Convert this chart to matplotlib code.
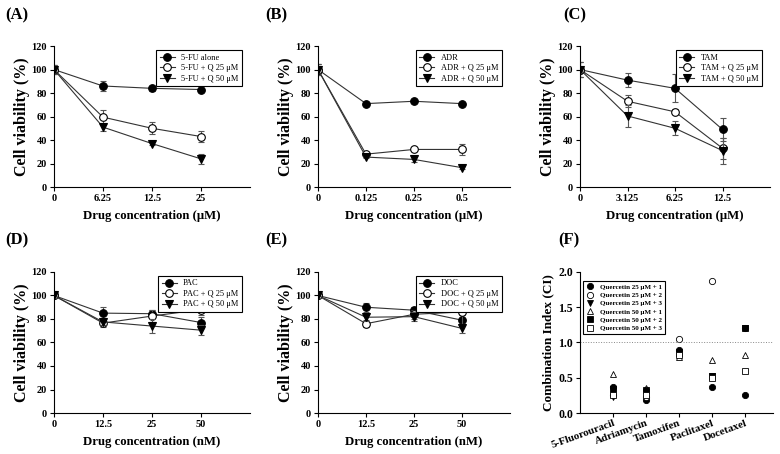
import numpy as np
import matplotlib
matplotlib.use("Agg")
import matplotlib.pyplot as plt

plt.rcParams['font.family'] = ['Liberation Serif', 'DejaVu Serif']

# ---- data: viability panels ----
x_5fu = ['0', '6.25', '12.5', '25']
fu_alone = [100, 86, 84, 83]
fu_alone_err = [4, 4, 2, 1]
fu_q25 = [100, 59.5, 50, 43]
fu_q25_err = [4, 6, 5, 5]
fu_q50 = [100, 51, 37, 24]
fu_q50_err = [4, 3, 1, 4.5]

x_adr = ['0', '0.125', '0.25', '0.5']
adr_alone = [100, 71, 73, 71]
adr_alone_err = [5, 1, 1, 1]
adr_q25 = [100, 28, 32, 32]
adr_q25_err = [5, 1, 1, 4.5]
adr_q50 = [100, 25.5, 23.5, 16.5]
adr_q50_err = [5, 1, 2, 1]

x_tam = ['0', '3.125', '6.25', '12.5']
tam_alone = [100, 91, 84, 49]
tam_alone_err = [6, 6, 12, 10]
tam_q25 = [100, 73, 64, 33]
tam_q25_err = [6, 5, 2, 9]
tam_q50 = [100, 60.5, 50, 31]
tam_q50_err = [6, 9, 6, 11]

x_pac = ['0', '12.5', '25', '50']
pac_alone = [100, 85, 84.5, 77]
pac_alone_err = [2, 5, 3, 5]
pac_q25 = [100, 76.5, 82.5, 88]
pac_q25_err = [2, 3, 5, 5]
pac_q50 = [100, 77.5, 74, 70.5]
pac_q50_err = [2, 3, 6, 4]

x_doc = ['0', '12.5', '25', '50']
doc_alone = [100, 90, 87.5, 79]
doc_alone_err = [2, 4, 3, 4]
doc_q25 = [100, 76, 84, 86]
doc_q25_err = [2, 3, 4, 10]
doc_q50 = [100, 81.5, 82, 72]
doc_q50_err = [2, 3, 4, 4]

# ---- data: combination index ----
drugs = ['5-Fluorouracil', 'Adriamycin', 'Tamoxifen', 'Paclitaxel', 'Docetaxel']
ci_q25_1 = [0.37, 0.19, 0.90, 0.37, 0.26]
ci_q25_2 = [0.25, 0.22, 1.05, 1.87, 1.20]
ci_q25_3 = [0.22, 0.30, 0.87, 0.52, 1.20]
ci_q50_1 = [0.55, 0.35, 0.80, 0.75, 0.82]
ci_q50_2 = [0.34, 0.32, 0.85, 0.52, 1.21]
ci_q50_3 = [0.26, 0.25, 0.82, 0.49, 0.60]

fig = plt.figure(figsize=(7.8, 4.54), dpi=100)

top_y, bot_y, h = 0.588, 0.0903, 0.3106
cols = [(0.0692, 0.2513), (0.4077, 0.246), (0.7436, 0.2436)]


def style_axis(ax, size=7.5):
    ax.spines['top'].set_visible(False)
    ax.spines['right'].set_visible(False)
    ax.tick_params(direction='out', length=3, width=0.8, labelsize=size, pad=2)
    for lab in ax.get_xticklabels() + ax.get_yticklabels():
        lab.set_fontweight('bold')


def viability(ax, xt, series, names, unit):
    pos = np.arange(len(xt))
    mk = [('o', 'black'), ('o', 'white'), ('v', 'black')]
    for (vals, err), name, (m, fc) in zip(series, names, mk):
        ax.errorbar(pos, vals, yerr=err, fmt='none', ecolor='#555555',
                    elinewidth=0.8, capsize=2, capthick=0.8)
        ax.plot(pos, vals, color='#333333', lw=0.8, marker=m, ms=5.5,
                mfc=fc, mec='black', mew=0.8, label=name)
    ax.set_xlim(0, 4)
    ax.set_ylim(0, 120)
    ax.set_xticks(pos)
    ax.set_xticklabels(xt)
    ax.set_yticks(range(0, 121, 20))
    ax.set_ylabel('Cell viability (%)', fontsize=11.5, fontweight='bold', labelpad=1)
    ax.set_xlabel('Drug concentration (' + unit + ')', fontsize=9.2, fontweight='bold', labelpad=5)
    style_axis(ax)
    leg = ax.legend(loc='upper right', bbox_to_anchor=(0.98, 1.0), fontsize=6,
                    fancybox=False, edgecolor='black', framealpha=1,
                    handlelength=1.8, borderpad=0.4, labelspacing=0.3)
    leg.get_frame().set_linewidth(0.8)


axA = fig.add_axes([cols[0][0], top_y, cols[0][1], h])
viability(axA, x_5fu, [(fu_alone, fu_alone_err), (fu_q25, fu_q25_err), (fu_q50, fu_q50_err)],
          ['5-FU alone', '5-FU + Q 25 μM', '5-FU + Q 50 μM'], 'μM')

axB = fig.add_axes([cols[1][0], top_y, cols[1][1], h])
viability(axB, x_adr, [(adr_alone, adr_alone_err), (adr_q25, adr_q25_err), (adr_q50, adr_q50_err)],
          ['ADR', 'ADR + Q 25 μM', 'ADR + Q 50 μM'], 'μM')

axC = fig.add_axes([cols[2][0], top_y, cols[2][1], h])
viability(axC, x_tam, [(tam_alone, tam_alone_err), (tam_q25, tam_q25_err), (tam_q50, tam_q50_err)],
          ['TAM', 'TAM + Q 25 μM', 'TAM + Q 50 μM'], 'μM')

axD = fig.add_axes([cols[0][0], bot_y, cols[0][1], h])
viability(axD, x_pac, [(pac_alone, pac_alone_err), (pac_q25, pac_q25_err), (pac_q50, pac_q50_err)],
          ['PAC', 'PAC + Q 25 μM', 'PAC + Q 50 μM'], 'nM')

axE = fig.add_axes([cols[1][0], bot_y, cols[1][1], h])
viability(axE, x_doc, [(doc_alone, doc_alone_err), (doc_q25, doc_q25_err), (doc_q50, doc_q50_err)],
          ['DOC', 'DOC + Q 25 μM', 'DOC + Q 50 μM'], 'nM')

# ---- panel F ----
axF = fig.add_axes([0.7436, bot_y, 0.2474, h])
xpos = np.arange(1, len(drugs) + 1)
ci_sets = [
    (ci_q25_1, 'Quercetin 25 μM + 1', 'o', 'black'),
    (ci_q25_2, 'Quercetin 25 μM + 2', 'o', 'white'),
    (ci_q25_3, 'Quercetin 25 μM + 3', 'v', 'black'),
    (ci_q50_1, 'Quercetin 50 μM + 1', '^', 'white'),
    (ci_q50_2, 'Quercetin 50 μM + 2', 's', 'black'),
    (ci_q50_3, 'Quercetin 50 μM + 3', 's', 'white'),
]
for vals, name, m, fc in ci_sets:
    axF.plot(xpos, vals, linestyle='none', marker=m, ms=4.5, mfc=fc,
             mec='black', mew=0.6, label=name)
axF.axhline(1.0, color='#888888', lw=0.7, ls=':')
axF.set_xlim(0, 5.85)
axF.set_ylim(0, 2.0)
axF.set_yticks([0.0, 0.5, 1.0, 1.5, 2.0])
axF.set_yticklabels(['0.0', '0.5', '1.0', '1.5', '2.0'])
axF.set_xticks(xpos)
axF.set_xticklabels(drugs, rotation=20, ha='right', rotation_mode='anchor')
axF.set_ylabel('Combination Index (CI)', fontsize=9.5, fontweight='bold', labelpad=3)
style_axis(axF, size=8.5)
for lab in axF.get_xticklabels():
    lab.set_fontsize(7.8)
axF.tick_params(axis='x', pad=1)
legF = axF.legend(loc='upper left', bbox_to_anchor=(0.0, 0.96),
                  fancybox=False, edgecolor='black', framealpha=1,
                  handlelength=1.2, borderpad=0.4, labelspacing=0.35,
                  prop={'weight': 'bold', 'size': 5})
legF.get_frame().set_linewidth(0.8)

# panel letters (figure pixel positions)
letters = ['(A)', '(B)', '(C)', '(D)', '(E)', '(F)']
letter_px = [(5, 15), (265, 15), (563, 15), (5, 240), (265, 240), (558, 240)]
for lab, (px, py) in zip(letters, letter_px):
    fig.text(px / 780, 1 - py / 454, lab, fontsize=12, fontweight='bold', va='center')

fig.savefig('out.png', dpi=100)
